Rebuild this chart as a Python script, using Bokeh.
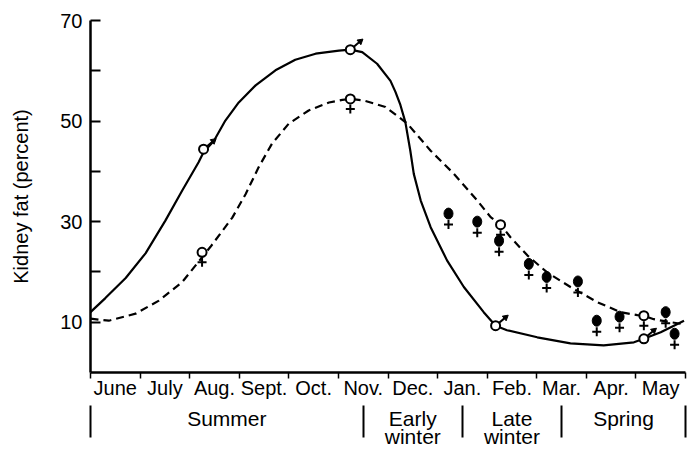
import math
from bokeh.plotting import figure
from bokeh.models import Range1d, FixedTicker, LinearAxis
from bokeh.embed import file_html
from bokeh.resources import INLINE

# ---------------- data ----------------
months = ["June", "July", "Aug.", "Sept.", "Oct.", "Nov.", "Dec.",
          "Jan.", "Feb.", "Mar.", "Apr.", "May"]
seasons = ["Summer", "Early", "Late", "Spring"]
season_second_line = {"Early": "winter", "Late": "winter"}
season_bounds = [0, 5.5, 7.5, 9.5, 12]
y_major = [10, 30, 50, 70]
y_minor = [20, 40, 60]

# male (solid) fitted curve, x = months since 1 June
male_curve_x = [0, 0.30, 0.71, 1.11, 1.51, 1.85, 2.18, 2.28, 2.49, 2.72, 2.99, 3.33,
                3.73, 4.13, 4.54, 5.01, 5.24, 5.48, 5.78, 6.05, 6.15, 6.25, 6.35,
                6.45, 6.52, 6.66, 6.86, 7.19, 7.53, 7.93, 8.17, 8.40, 9.01, 9.68,
                10.35, 10.96, 11.16, 11.50, 11.97]
male_curve_y = [12.0, 14.8, 18.8, 23.7, 30.2, 36.2, 41.8, 43.8, 46.1, 50.1, 53.7, 57.1,
                60.1, 62.2, 63.4, 64.0, 64.2, 63.7, 61.4, 58.0, 55.8, 53.2, 49.8,
                44.1, 39.5, 34.2, 28.9, 22.3, 17.0, 12.0, 9.3, 8.4, 7.0, 5.8,
                5.4, 6.0, 6.7, 8.0, 10.3]

# female (dashed) fitted curve
female_curve_x = [0, 0.37, 0.91, 1.38, 1.85, 2.25, 2.42, 2.86, 3.13, 3.39, 3.66, 4.00,
                  4.40, 4.81, 5.08, 5.24, 5.51, 5.95, 6.39, 6.86, 7.33, 7.80, 8.07,
                  8.27, 8.47, 8.81, 9.21, 9.68, 10.22, 10.69, 11.03, 11.16, 11.36,
                  11.70, 11.97]
female_curve_y = [10.7, 10.3, 11.7, 14.3, 18.0, 22.9, 25.0, 30.8, 35.5, 40.8, 45.5, 49.5,
                  52.1, 53.7, 54.2, 54.4, 54.1, 52.8, 49.5, 44.1, 39.5, 34.2, 30.9,
                  29.4, 26.9, 23.3, 19.9, 17.0, 14.0, 12.0, 11.4, 11.3, 10.6,
                  10.0, 9.6]

# symbols
male_x = [2.28, 5.24, 8.17, 11.16]
male_y = [44.4, 64.2, 9.3, 6.7]
female_open_x = [2.25, 5.24, 8.27, 11.16]
female_open_y = [23.9, 54.4, 29.4, 11.3]
female_filled_x = [7.22, 7.80, 8.24, 8.84, 9.20, 9.83, 10.21, 10.67, 11.60, 11.78]
female_filled_y = [31.6, 30.0, 26.2, 21.6, 19.0, 18.1, 10.3, 11.1, 12.0, 7.7]

# ---------------- figure ----------------
W, H = 689, 450
X0, X1, Y0, Y1 = 0, 12, 0, 70
BL, BR, BT, BB = 90, 4, 20, 78
FONT = "Liberation Sans"

p = figure(width=W, height=H, output_backend="svg", toolbar_location=None,
           x_range=Range1d(X0, X1), y_range=Range1d(Y0, Y1),
           x_axis_type=None, y_axis_type=None,
           min_border_left=BL, min_border_right=BR, min_border_top=BT, min_border_bottom=BB)
p.outline_line_color = None
p.background_fill_color = "white"
p.border_fill_color = "white"

frame_h = H - BT - BB
frame_w = W - BL - BR
px_per_y = frame_h / (Y1 - Y0)
px_per_x = frame_w / (X1 - X0)

# y axis
yax = LinearAxis(ticker=FixedTicker(ticks=y_major, minor_ticks=y_minor),
                 axis_label="Kidney fat (percent)")
yax.axis_line_width = 2.5
yax.major_tick_in = 10
yax.major_tick_out = 0
yax.minor_tick_in = 10
yax.minor_tick_out = 0
yax.major_tick_line_width = 2
yax.minor_tick_line_width = 2
yax.major_label_standoff = 8
yax.major_label_text_font = FONT
yax.major_label_text_font_size = "20px"
yax.major_label_text_color = "black"
yax.axis_label_text_font = FONT
yax.axis_label_text_font_size = "20px"
yax.axis_label_text_font_style = "normal"
yax.axis_label_text_color = "black"
yax.axis_label_standoff = 25
p.add_layout(yax, "left")

# x axis: months (labels centred between month boundary ticks)
xax = LinearAxis(ticker=FixedTicker(ticks=[i + 0.5 for i in range(len(months))],
                                    minor_ticks=list(range(len(months) + 1))),
                 major_label_overrides={i + 0.5: m for i, m in enumerate(months)})
xax.axis_line_width = 2.5
xax.major_tick_in = 0
xax.major_tick_out = 0
xax.minor_tick_in = 0
xax.minor_tick_out = 6
xax.minor_tick_line_width = 1.5
xax.major_label_standoff = -2
xax.major_label_text_font = FONT
xax.major_label_text_font_size = "20px"
xax.major_label_text_color = "black"
p.add_layout(xax, "below")

# x axis: season names, first line
centers = [(season_bounds[i] + season_bounds[i + 1]) / 2 for i in range(len(seasons))]
sax = LinearAxis(ticker=FixedTicker(ticks=centers, minor_ticks=[]),
                 major_label_overrides={c: s for c, s in zip(centers, seasons)})
sax.axis_line_color = None
sax.major_tick_in = 0
sax.major_tick_out = 0
sax.minor_tick_in = 0
sax.minor_tick_out = 0
sax.major_label_standoff = 5
sax.major_label_text_font = FONT
sax.major_label_text_font_size = "21px"
sax.major_label_text_color = "black"
p.add_layout(sax, "below")

# x axis: second line ("winter") + season dividers drawn as minor ticks
second = [(c, season_second_line[s]) for c, s in zip(centers, seasons) if s in season_second_line]
wax = LinearAxis(ticker=FixedTicker(ticks=[c for c, _ in second], minor_ticks=season_bounds),
                 major_label_overrides={c: t for c, t in second})
wax.axis_line_color = None
wax.major_tick_in = 0
wax.major_tick_out = 0
wax.minor_tick_in = 27
wax.minor_tick_out = 5
wax.minor_tick_line_width = 2
wax.major_label_standoff = -13
wax.major_label_text_font = FONT
wax.major_label_text_font_size = "21px"
wax.major_label_text_color = "black"
p.add_layout(wax, "below")

# curves
p.line(male_curve_x, male_curve_y, line_color="black", line_width=2.2)
p.line(female_curve_x, female_curve_y, line_color="black", line_width=2.2, line_dash="8 5")

# male symbols: arrow + ring
ARROW_PX = 13
ANG = 40
p.ray(male_x, male_y, length=ARROW_PX, length_units="screen", angle=ANG,
      angle_units="deg", line_color="black", line_width=2)
tip_x = [x + ARROW_PX * math.cos(math.radians(ANG)) / px_per_x for x in male_x]
tip_y = [y + ARROW_PX * math.sin(math.radians(ANG)) / px_per_y for y in male_y]
p.scatter(tip_x, tip_y, marker="triangle", size=6, angle=ANG - 90, angle_units="deg",
          fill_color="black", line_color="black")
p.scatter(male_x, male_y, marker="circle", size=9, fill_color="white",
          line_color="black", line_width=2)

# female symbols: cross below head
CROSS_PX = 10
fo_cy = [y - CROSS_PX / px_per_y for y in female_open_y]
ff_cy = [y - (CROSS_PX + 1) / px_per_y for y in female_filled_y]
p.scatter(female_open_x, fo_cy, marker="cross", size=9, line_color="black", line_width=2)
p.scatter(female_open_x, female_open_y, marker="circle", size=9, fill_color="white",
          line_color="black", line_width=2)
p.scatter(female_filled_x, ff_cy, marker="cross", size=9, line_color="black", line_width=2)
p.ellipse(female_filled_x, female_filled_y, width=9, height=11, width_units="screen",
          height_units="screen", fill_color="black", line_color="black")

open("out.html", "w").write(file_html(p, INLINE))
